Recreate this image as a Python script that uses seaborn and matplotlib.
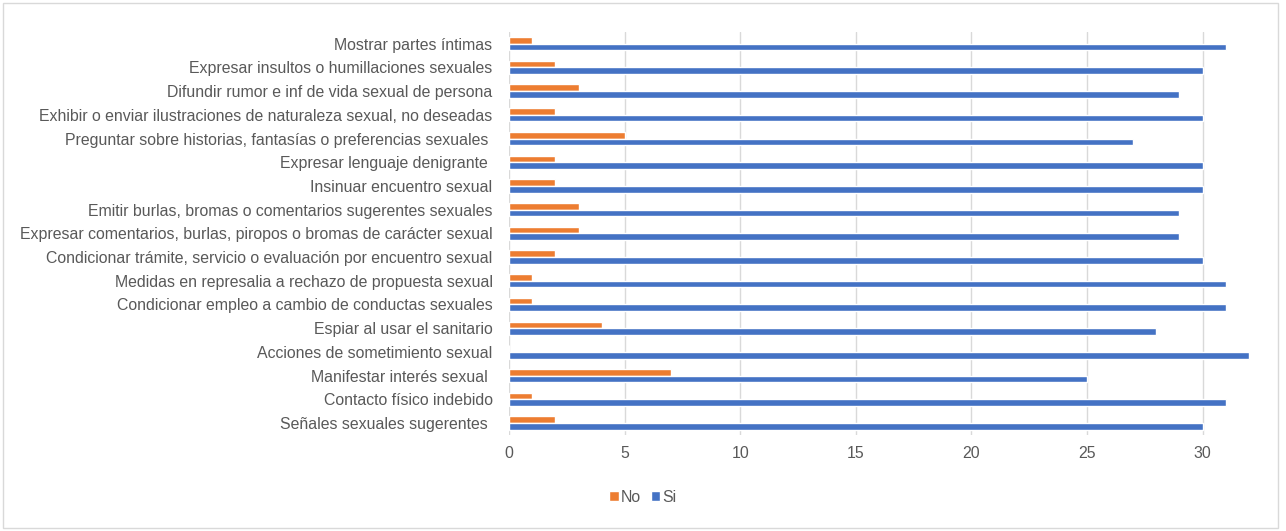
import pandas as pd
import matplotlib.pyplot as plt
import seaborn as sns
from matplotlib.patches import Rectangle

categorias = [
    "Mostrar partes íntimas",
    "Expresar insultos o humillaciones sexuales",
    "Difundir rumor e inf de vida sexual de persona",
    "Exhibir o enviar ilustraciones de naturaleza sexual, no deseadas",
    "Preguntar sobre historias, fantasías o preferencias sexuales ",
    "Expresar lenguaje denigrante ",
    "Insinuar encuentro sexual",
    "Emitir burlas, bromas o comentarios sugerentes sexuales",
    "Expresar comentarios, burlas, piropos o bromas de carácter sexual",
    "Condicionar trámite, servicio o evaluación por encuentro sexual",
    "Medidas en represalia a rechazo de propuesta sexual",
    "Condicionar empleo a cambio de conductas sexuales",
    "Espiar al usar el sanitario",
    "Acciones de sometimiento sexual",
    "Manifestar interés sexual ",
    "Contacto físico indebido",
    "Señales sexuales sugerentes ",
]
no_vals = [1, 2, 3, 2, 5, 2, 2, 3, 3, 2, 1, 1, 4, 0, 7, 1, 2]
si_vals = [31, 30, 29, 30, 27, 30, 30, 29, 29, 30, 31, 31, 28, 32, 25, 31, 30]
ticks = [0, 5, 10, 15, 20, 25, 30]

df = pd.DataFrame({
    "categoria": categorias * 2,
    "valor": no_vals + si_vals,
    "respuesta": ["No"] * len(categorias) + ["Si"] * len(categorias),
})

sns.set_theme(style="white")
plt.rcParams["font.family"] = ["Liberation Sans", "DejaVu Sans"]
gris = "#595959"

fig = plt.figure(figsize=(12.86, 5.31), dpi=100)
ax = fig.add_axes([0.396, 0.181, 0.584, 0.759])

sns.barplot(data=df, y="categoria", x="valor", hue="respuesta",
            hue_order=["No", "Si"], palette={"No": "#ED7D31", "Si": "#4472C4"},
            orient="h", width=0.56, gap=0, saturation=1, ax=ax)

ax.set_xlim(0, 32.5)
ax.set_xticks(ticks)
ax.grid(axis="x", color="#D9D9D9", linewidth=1)
ax.set_axisbelow(True)
for s in ax.spines.values():
    s.set_visible(False)
ax.tick_params(axis="both", length=0, colors=gris, labelsize=11.4)
ax.tick_params(axis="x", pad=8)
ax.tick_params(axis="y", pad=12)
ax.set_xlabel("")
ax.set_ylabel("")

ax.get_legend().remove()
handles, labels = ax.get_legend_handles_labels()
fig.legend(handles, labels, loc="center", bbox_to_anchor=(0.5, 0.064), ncol=2,
           frameon=False, fontsize=11.4, handlelength=0.6, handleheight=0.6,
           handletextpad=0.15, columnspacing=0.6, labelcolor=gris)

fig.patches.append(Rectangle((0.002, 0.005), 0.992, 0.99, transform=fig.transFigure,
                             fill=False, edgecolor="#D9D9D9", linewidth=1))

fig.savefig("out.png", dpi=100)
